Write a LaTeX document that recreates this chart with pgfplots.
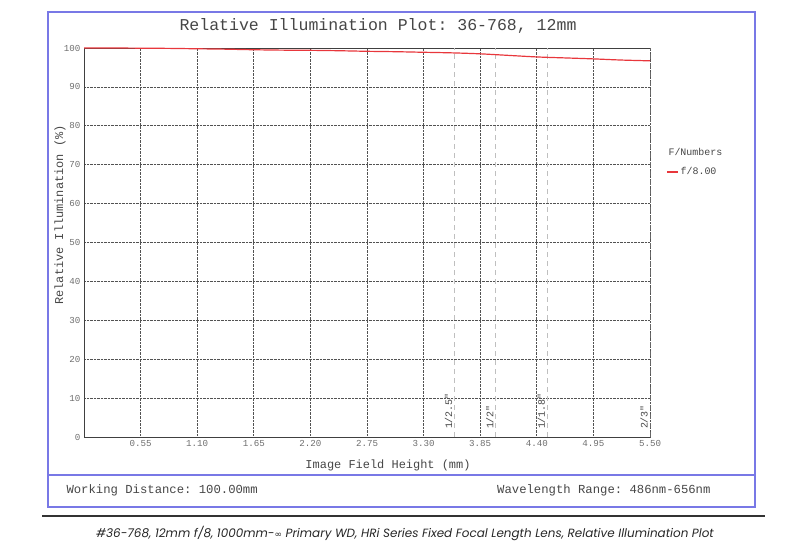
\documentclass[border=0pt]{standalone}
\usepackage{fontspec}
\usepackage{pgfplots}
\pgfplotsset{compat=1.18}
\setmonofont{Liberation Mono}
\newfontfamily\capfont{Poppins}
\newfontfamily\symfont{DejaVu Sans}
\definecolor{boxblue}{RGB}{120,120,230}
\definecolor{txt}{RGB}{70,70,70}
\definecolor{tck}{RGB}{110,110,110}
\definecolor{curve}{RGB}{232,55,60}
\begin{document}
\begin{tikzpicture}
\begin{scope}[x=1bp,y=-1bp]
\useasboundingbox (0,0) rectangle (795,549);
\draw[boxblue, line width=1.5bp] (48,12) rectangle (755,507);
\draw[boxblue, line width=1.2bp] (48,475) -- (755,475);
\draw[black!80, line width=1.2bp] (42,516) -- (765,516);
\node[font=\ttfamily\fontsize{16.6}{18}\selectfont, text=txt] at (378,26) {Relative Illumination Plot: 36-768, 12mm};
\node[rotate=90, font=\ttfamily\fontsize{12}{14}\selectfont, text=txt] at (60,215) {Relative Illumination (\%)};
\node[font=\ttfamily\fontsize{12}{14}\selectfont, text=txt] at (388,465) {Image Field Height (mm)};
\node[anchor=west, font=\ttfamily\fontsize{12.3}{14}\selectfont, text=txt] at (63,490) {Working Distance: 100.00mm};
\node[anchor=east, font=\ttfamily\fontsize{12.3}{14}\selectfont, text=txt] at (714,490) {Wavelength Range: 486nm-656nm};
\node[anchor=west, font=\ttfamily\fontsize{10}{12}\selectfont, text=txt] at (665,152) {F/Numbers};
\node[font=\capfont\itshape\fontsize{12}{14}\selectfont, text=black!85] at (405,533) {\#36-768, 12mm f/8, 1000mm-{\symfont\fontsize{9}{10}\selectfont ∞} Primary WD, HRi Series Fixed Focal Length Lens, Relative Illumination Plot};
\end{scope}
\begin{axis}[
  at={(84bp,-437bp)}, anchor=south west,
  scale only axis, width=566bp, height=389bp,
  xmin=0, xmax=5.5, ymin=0, ymax=100,
  axis x line*=bottom, axis y line*=left,
  axis line style={draw=black!75, line width=0.9pt},
  xtick={0.55,1.1,1.65,2.2,2.75,3.3,3.85,4.4,4.95,5.5},
  xticklabels={0.55,1.10,1.65,2.20,2.75,3.30,3.85,4.40,4.95,5.50},
  ytick={0,10,20,30,40,50,60,70,80,90,100},
  yticklabels={0,10,20,30,40,50,60,70,80,90,100},
  grid=major,
  major grid style={densely dotted, black!68, line width=0.7pt},
  tick style={draw=none},
  ticklabel style={font=\ttfamily\fontsize{9.2}{10}\selectfont, text=tck},
  clip=false,
  legend style={at={(rel axis cs:1.029,0.681)}, anchor=west, draw=none, fill=none,
    font=\ttfamily\fontsize{10}{12}\selectfont, text=txt, inner sep=0pt},
  legend image code/.code={\draw[#1] (0cm,0cm) -- (0.38cm,0cm);},
]
\draw[black!75, line width=0.9pt] (rel axis cs:0,1) -- (rel axis cs:1,1);
\addplot[gray!50, dash pattern=on 5bp off 4bp, line width=0.8pt, forget plot] coordinates {(3.6,0) (3.6,100)};
\addplot[gray!50, dash pattern=on 5bp off 4bp, line width=0.8pt, forget plot] coordinates {(4.0,0) (4.0,100)};
\addplot[gray!50, dash pattern=on 5bp off 4bp, line width=0.8pt, forget plot] coordinates {(4.5,0) (4.5,100)};
\addplot[black!60, dash pattern=on 5bp off 4bp, line width=0.9pt, forget plot] coordinates {(5.5,0) (5.5,100)};
\addplot[curve, line width=1.2pt, smooth] coordinates {
(0,100) (0.275,100) (0.55,99.95) (0.825,99.9) (1.1,99.8) (1.375,99.7) (1.65,99.55)
(1.925,99.45) (2.2,99.4) (2.475,99.3) (2.75,99.15) (3.025,99.05) (3.3,98.9)
(3.575,98.75) (3.85,98.5) (4.125,98.1) (4.4,97.7) (4.675,97.45) (4.95,97.2)
(5.225,96.9) (5.5,96.7)};
\addlegendentry{f/8.00}
\node[rotate=90, anchor=south west, inner sep=2pt, font=\ttfamily\fontsize{10}{11}\selectfont, text=txt] at (axis cs:3.6,1.5) {1/2.5"};
\node[rotate=90, anchor=south west, inner sep=2pt, font=\ttfamily\fontsize{10}{11}\selectfont, text=txt] at (axis cs:4.0,1.5) {1/2"};
\node[rotate=90, anchor=south west, inner sep=2pt, font=\ttfamily\fontsize{10}{11}\selectfont, text=txt] at (axis cs:4.5,1.5) {1/1.8"};
\node[rotate=90, anchor=south west, inner sep=2pt, font=\ttfamily\fontsize{10}{11}\selectfont, text=txt] at (axis cs:5.5,1.5) {2/3"};
\end{axis}
\end{tikzpicture}
\end{document}
